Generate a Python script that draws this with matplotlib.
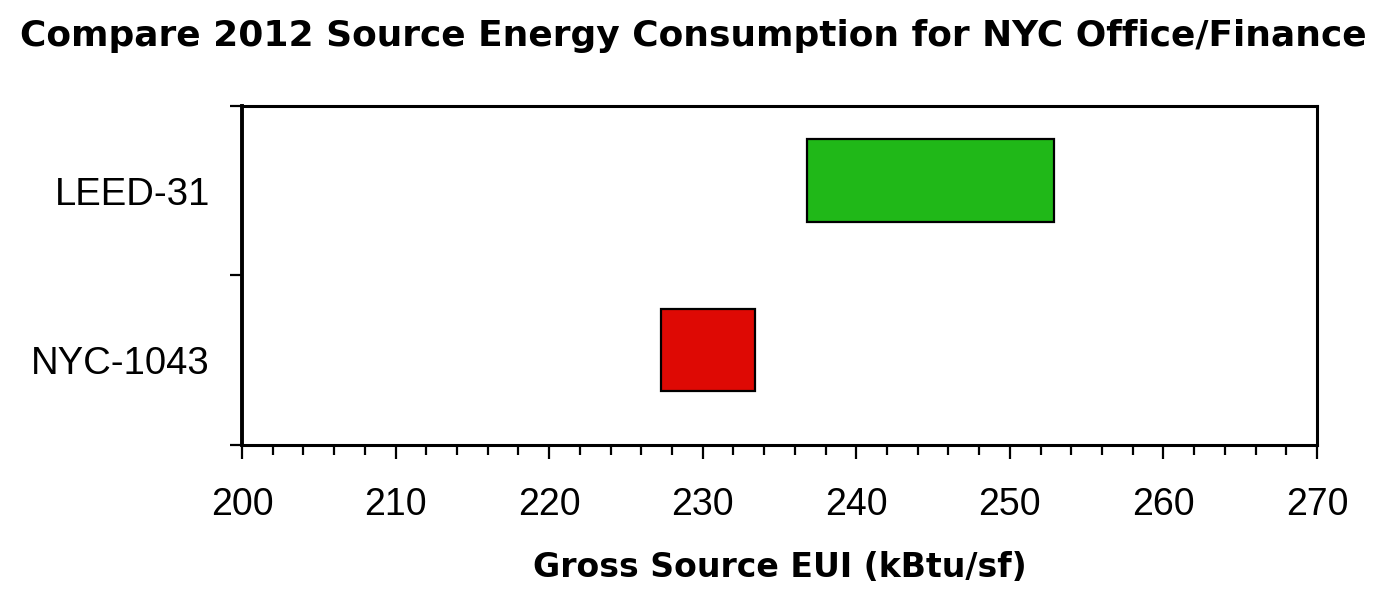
import numpy as np
import matplotlib
matplotlib.use('Agg')
import matplotlib.pyplot as plt
from matplotlib.ticker import MultipleLocator

# data
buildings = ['NYC-1043', 'LEED-31']
eui_low = [227.3, 236.8]
eui_high = [233.4, 252.9]
bar_colors = ['#DE0904', '#20B818']

plt.rcParams['font.family'] = ['Liberation Sans', 'DejaVu Sans']

fig = plt.figure(figsize=(13.88, 6.06), dpi=100)
ax = fig.add_axes([0.1744, 0.2657, 0.7744, 0.5594])

centers = np.arange(len(buildings)) + 0.56
widths = np.array(eui_high) - np.array(eui_low)
ax.barh(centers, widths, left=eui_low, height=0.486, color=bar_colors,
        edgecolor='black', linewidth=1.6, zorder=3)

ax.set_xlim(200, 270)
ax.set_ylim(0, len(buildings))

ax.xaxis.set_major_locator(MultipleLocator(10))
ax.xaxis.set_minor_locator(MultipleLocator(2))
ax.tick_params(axis='x', which='major', direction='out', length=10, width=1.6,
               labelsize=27, pad=20)
ax.tick_params(axis='x', which='minor', direction='out', length=7, width=1.6)

ax.set_yticks(np.arange(len(buildings) + 1))
ax.set_yticklabels([])
ax.set_yticks(np.arange(len(buildings)) + 0.5, minor=True)
ax.set_yticklabels(buildings, minor=True)
ax.tick_params(axis='y', which='major', direction='out', length=9, width=1.6)
ax.tick_params(axis='y', which='minor', length=0, labelsize=27.5, pad=23)

for s in ax.spines.values():
    s.set_linewidth(2.2)
ax.spines['left'].set_linewidth(2.8)

ax.set_xlabel('Gross Source EUI (kBtu/sf)', fontsize=23.9, fontweight='bold',
              family='DejaVu Sans')
ax.xaxis.set_label_coords(0.5, -0.36)
ax.xaxis.label.set_va('center')

fig.text(0.4993, 1 - 36 / 606, 'Compare 2012 Source Energy Consumption for NYC Office/Finance',
         ha='center', va='center', fontsize=25.9, fontweight='bold', family='DejaVu Sans')

fig.savefig('out.png', dpi=100, facecolor='white')
